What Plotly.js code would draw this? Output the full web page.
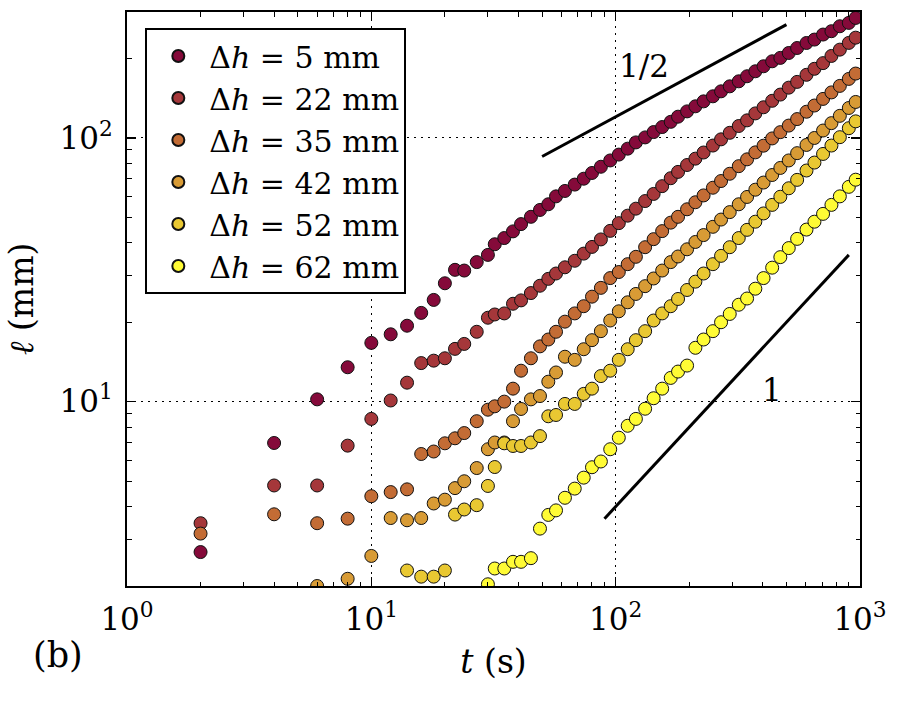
<!DOCTYPE html>
<html>
<head>
<meta charset="utf-8">
<script src="https://cdn.plot.ly/plotly-3.0.1.min.js"></script>
<style>
  html, body { margin: 0; padding: 0; background: #fff; }
  #chart { width: 900px; height: 705px; }
</style>
</head>
<body>
<div id="chart"></div>
<script>
// Sampling times (s), shared by every run
const times = [2, 4, 6, 8, 10, 12, 14, 16, 18, 20, 22, 24, 27, 30, 32, 35, 38, 41, 45, 49,
  53, 57, 62, 68, 74, 80, 87, 95, 103, 112, 121, 132, 143, 155, 168, 180, 196, 212, 229, 250,
  270, 293, 319, 345, 373, 403, 437, 472, 511, 553, 604, 651, 706, 764, 827, 900, 960];

// Front length (mm); each list ends at the last sampling time
const len5 = [2.69, 6.97, 10.2, 13.5, 16.7, 18.0, 19.4, 21.7, 24.3, 28.1, 31.6, 31.4, 33.8, 36.0,
  39.5, 41.7, 44.2, 47.1, 50.2, 53.3, 56.0, 60.0, 62.9, 66.5, 70.0, 73.6, 77.7, 82.1, 86.4, 91.0,
  96.1, 100.4, 105.2, 109.9, 115.0, 120.3, 126.0, 131.7, 137.5, 143.7, 150.1, 156.8, 163.8, 171.2,
  178.8, 186.8, 195.1, 201.0, 209.8, 219.1, 228.9, 235.8, 246.4, 253.7, 264.9, 272.8, 284.9];
const len22 = [3.46, 4.81, 4.81, 6.81, 8.6, 10.1, 11.8, 14.0, 14.3, 14.6, 15.85, 16.55, 18.4, 20.8,
  21.4, 21.6, 23.5, 24.2, 25.8, 27.5, 29.2, 30.6, 32.3, 34.2, 36.4, 38.6, 41.2, 44.4, 47.5, 50.7,
  53.9, 57.6, 61.3, 65.6, 70.3, 74.3, 78.9, 83.4, 88.0, 93.5, 98.7, 104.5, 110.9, 116.5, 123.8,
  130.6, 138.2, 145.9, 155.0, 163.0, 173.4, 182.7, 192.0, 204.4, 216.0, 229.1, 239.8];
const len35 = [3.16, 3.74, 3.46, 3.6, 4.38, 4.54, 4.65, 6.33, 6.47, 6.95, 7.26, 7.6, 8.43, 9.32,
  9.6, 10.0, 11.2, 13.1, 14.6, 16.2, 17.2, 18.4, 20.1, 21.6, 23.0, 25.0, 27.0, 29.4, 31.0, 33.2,
  35.4, 38.5, 41.3, 44.3, 47.7, 50.2, 53.6, 57.0, 60.5, 64.7, 68.6, 73.1, 78.1, 82.9, 88.1, 93.4,
  99.5, 105.1, 111.3, 117.8, 125.6, 132.6, 140.5, 148.7, 157.4, 167.3, 175.3];
const len42 = [2.0, 2.13, 2.60, 3.62, 3.55, 3.62, 4.11, 4.25, 4.70, 4.99, 5.6, 6.6, 7.0, 7.0, 8.43,
  9.38, 10.2, 10.5, 11.9, 12.9, 14.8, 14.4, 15.8, 17.1, 18.5, 20.3, 22.0, 23.8, 25.6, 27.4, 29.3,
  31.4, 33.8, 35.5, 37.8, 40.3, 42.8, 46.0, 49.0, 52.3, 56.0, 59.7, 63.6, 67.7, 72.3, 76.9, 82.1,
  87.5, 94.0, 99.9, 106.6, 113.7, 121.2, 129.8, 136.8];
const len52 = [2.29, 2.17, 2.17, 2.29, 3.73, 3.90, 4.05, 4.79, 5.65, 6.95, 6.79, 6.79, 7.0, 7.4,
  8.8, 8.9, 9.8, 9.8, 10.7, 11.2, 12.5, 13.1, 14.4, 15.8, 17.1, 18.5, 20.3, 21.6, 23.0, 24.5, 26.5,
  28.5, 30.6, 33.2, 35.7, 38.5, 41.7, 44.8, 48.1, 51.7, 55.7, 59.8, 64.4, 69.3, 75.2, 80.6, 86.9,
  93.5, 100.6, 108.8, 115.5];
const len62 = [2.03, 2.33, 2.33, 2.47, 2.47, 2.55, 3.30, 3.72, 3.87, 4.32, 4.68, 5.15, 5.64, 5.93,
  6.6, 7.3, 8.1, 8.6, 9.4, 10.3, 11.2, 12.3, 13.0, 13.7, 16.0, 17.2, 18.5, 20.0, 21.5, 23.3, 24.6,
  26.8, 29.4, 32.2, 35.3, 38.2, 41.4, 44.9, 48.1, 51.5, 55.7, 60.0, 65.2, 69.4];

const heights = [5, 22, 35, 42, 52, 62];
const lengths = [len5, len22, len35, len42, len52, len62];
const colors = ['#850a3a', '#a5373a', '#c36c35', '#d89b35', '#e9c832', '#fffb35'];

// Power-law guides: exponent, start time, end time, start length
const guideSlopes = [0.5, 1];
const guideT0 = [50, 90];
const guideT1 = [500, 900];
const guideL0 = [85, 3.6];
const guideLabels = ['1/2', '1'];

const FONT = 'DejaVu Serif';

const traces = heights.map((h, i) => {
  const vals = lengths[i];
  return {
    type: 'scatter',
    mode: 'markers',
    x: times.slice(times.length - vals.length),
    y: vals,
    name: '\u0394<i>h</i> = ' + h + ' mm',
    marker: { size: 13, color: colors[i], line: { color: '#111', width: 1 } },
    cliponaxis: true
  };
});

guideSlopes.forEach((s, i) => {
  const l1 = guideL0[i] * Math.pow(guideT1[i] / guideT0[i], s);
  traces.push({
    type: 'scatter',
    mode: 'lines',
    x: [guideT0[i], guideT1[i]],
    y: [guideL0[i], l1],
    line: { color: 'black', width: 3 },
    showlegend: false,
    hoverinfo: 'skip'
  });
});

const minorX = [];
const minorY = [];
[1, 10, 100].forEach(d => {
  for (let k = 2; k <= 9; k++) {
    minorX.push(k * d);
    if (k * d >= 2 && k * d <= 300) minorY.push(k * d);
  }
});

const axisCommon = {
  type: 'log',
  showline: true,
  linecolor: 'black',
  linewidth: 2,
  mirror: 'ticks',
  ticks: 'inside',
  ticklen: 9,
  tickwidth: 1.5,
  tickcolor: 'black',
  tickmode: 'array',
  showgrid: true,
  gridcolor: 'black',
  griddash: '2px,5px',
  gridwidth: 1.2,
  zeroline: false,
  tickfont: { family: FONT, size: 31, color: 'black' }
};

const layout = {
  width: 900,
  height: 705,
  paper_bgcolor: 'white',
  plot_bgcolor: 'white',
  margin: { l: 127, r: 40, t: 12, b: 119 },
  font: { family: FONT, color: 'black' },
  showlegend: true,
  xaxis: Object.assign({}, axisCommon, {
    range: [0, 3],
    tickvals: [1, 10, 100, 1000],
    ticktext: ['10<sup>0</sup>', '10<sup>1</sup>', '10<sup>2</sup>', '10<sup>3</sup>'],
    ticklabelstandoff: 5,
    minor: { tickmode: 'array', tickvals: minorX, ticks: 'inside', ticklen: 4.5, tickwidth: 1, tickcolor: 'black', showgrid: false },
    title: { text: '<i>t</i> (s)', font: { family: FONT, size: 33, color: 'black' }, standoff: 14 }
  }),
  yaxis: Object.assign({}, axisCommon, {
    range: [Math.log10(2), Math.log10(300)],
    tickvals: [10, 100],
    ticktext: ['10<sup>1</sup>', '10<sup>2</sup>'],
    ticklabelstandoff: 6,
    minor: { tickmode: 'array', tickvals: minorY, ticks: 'inside', ticklen: 4.5, tickwidth: 1, tickcolor: 'black', showgrid: false },
    title: { text: '<i>\u2113</i> (mm)', font: { family: FONT, size: 33, color: 'black' }, standoff: 16 }
  }),
  legend: {
    x: 0.025,
    y: 0.972,
    xanchor: 'left',
    yanchor: 'top',
    bgcolor: 'white',
    bordercolor: 'black',
    borderwidth: 2,
    font: { family: FONT, size: 30, color: 'black' },
    itemsizing: 'constant',
    itemwidth: 52,
    tracegroupgap: 0
  },
  annotations: [
    { text: guideLabels[0], xref: 'x', yref: 'y', x: Math.log10(130), y: Math.log10(187),
      showarrow: false, font: { family: FONT, size: 31, color: 'black' } },
    { text: guideLabels[1], xref: 'x', yref: 'y', x: Math.log10(438), y: Math.log10(11.1),
      showarrow: false, font: { family: FONT, size: 31, color: 'black' } },
    { text: '(b)', xref: 'paper', yref: 'paper', x: -0.094, y: -0.12,
      xanchor: 'center', yanchor: 'middle',
      showarrow: false, font: { family: FONT, size: 35, color: 'black' } }
  ]
};

Plotly.newPlot('chart', traces, layout, { displayModeBar: false, staticPlot: true });
</script>
</body>
</html>
